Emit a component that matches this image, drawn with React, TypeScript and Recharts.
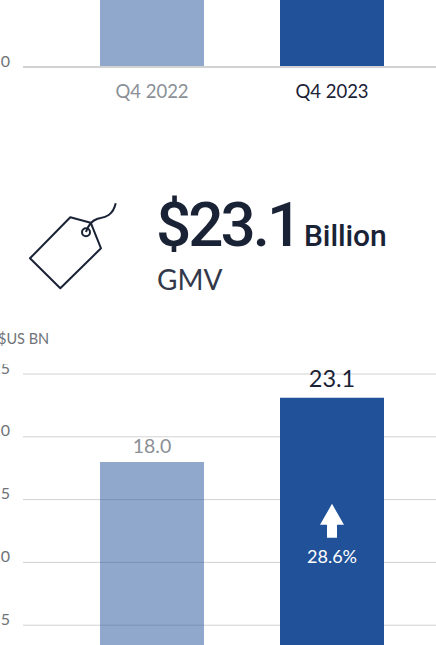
import { BarChart, Bar, XAxis, YAxis, CartesianGrid, Cell, LabelList } from "recharts";

const FONT = "Lato, sans-serif";
const HEAD_FONT = "Roboto, sans-serif";
const DARK = "#1a2236";
const MUTED = "#8b8f96";
const BLUE = "#215299";

const quarters = ["Q4 2022", "Q4 2023"];
// top chart is cut by the page, only the baseline is readable
const prevValues = [8, 11];
const prevTicks = [0, 5, 10];
const gmvValues = [18.0, 23.1];
const gmvTicks = [0, 5, 10, 15, 20, 25];
const gmvGrowth = "28.6%";

const prevData = quarters.map((q, i) => ({ q, v: prevValues[i] }));
const gmvData = quarters.map((q, i) => ({ q, v: gmvValues[i] }));

const QuarterTick = ({ x, y, payload, index }: any) => (
  <text x={x} y={y + 23} textAnchor="middle" fontFamily={FONT} fontSize={18.5} fill={index === 1 ? DARK : MUTED}>
    {payload.value}
  </text>
);

const GmvLabel = ({ x, y, width, value, index }: any) => {
  const cx = x + width / 2;
  if (index === 0) {
    return (
      <text x={cx} y={y - 9} textAnchor="middle" fontFamily={FONT} fontSize={19.5} fill={MUTED}>
        {value.toFixed(1)}
      </text>
    );
  }
  const t = y + 106;
  return (
    <g>
      <text x={cx} y={y - 11} textAnchor="middle" fontFamily={FONT} fontSize={23.5} fill={DARK}>
        {value.toFixed(1)}
      </text>
      <path
        d={`M${cx} ${t} L${cx + 12} ${t + 21} H${cx + 5} V${t + 34} H${cx - 5} V${t + 21} H${cx - 12} Z`}
        fill="#fff"
      />
      <text x={cx} y={t + 59} textAnchor="middle" fontFamily={FONT} fontSize={18} fill="#fff">
        {gmvGrowth}
      </text>
    </g>
  );
};

const axisTick = { fontFamily: FONT, fontSize: 16, fill: "#6f7378", dy: -6 };

export default function App() {
  return (
    <div style={{ position: "fixed", left: 0, top: 0, width: 436, height: 645, overflow: "hidden", background: "#fff" }}>
      <div style={{ position: "absolute", left: 0, top: -100 }}>
        <BarChart
          width={436}
          height={207}
          data={prevData}
          barCategoryGap={38}
          margin={{ top: 7, right: 0, bottom: 0, left: 0 }}
        >
          <CartesianGrid vertical={false} stroke="#d2d2d2" />
          <XAxis
            dataKey="q"
            height={40}
            padding={{ left: 39, right: 14 }}
            axisLine={{ stroke: "#d2d2d2", strokeWidth: 2 }}
            tickLine={false}
            tick={<QuarterTick />}
          />
          <YAxis
            width={23}
            domain={[0, 10]}
            ticks={prevTicks}
            axisLine={false}
            tickLine={false}
            tickSize={0}
            tickMargin={13}
            tick={axisTick}
          />
          <Bar dataKey="v" isAnimationActive={false}>
            <Cell fill={BLUE} fillOpacity={0.5} />
            <Cell fill={BLUE} />
          </Bar>
        </BarChart>
      </div>

      {/* tag icon */}
      <svg width={130} height={100} viewBox="0 200 130 100" style={{ position: "absolute", left: 0, top: 200 }}>
        <g fill="none" stroke={DARK} strokeWidth={2}>
          <path d="M70.3 217.3 L90.7 222.7 L101 248.3 L60.3 288.3 L30 258.3 Z" strokeLinejoin="round" />
          <circle cx={86} cy={232.3} r={4} />
          <path d="M86 232 C88 226 91 221 97 219 C105 217 113 216 115.7 203.3" />
        </g>
      </svg>

      <div style={{ position: "absolute", left: 156, top: 188, fontFamily: HEAD_FONT, fontWeight: 500, fontSize: 62, letterSpacing: -3, lineHeight: "74px", color: DARK, whiteSpace: "nowrap" }}>
        $23.1
      </div>
      <div style={{ position: "absolute", left: 304, top: 218, fontFamily: HEAD_FONT, fontWeight: 500, fontSize: 30, letterSpacing: -0.1, lineHeight: "36px", color: DARK, whiteSpace: "nowrap" }}>
        Billion
      </div>
      <div style={{ position: "absolute", left: 157, top: 262, fontFamily: FONT, fontSize: 28, lineHeight: "34px", color: "#33394a", whiteSpace: "nowrap" }}>
        GMV
      </div>
      <div style={{ position: "absolute", left: -2, top: 330, fontFamily: FONT, fontSize: 14.5, lineHeight: "18px", color: "#6f7378", whiteSpace: "nowrap" }}>
        $US BN
      </div>

      <div style={{ position: "absolute", left: 0, top: 364 }}>
        <BarChart
          width={436}
          height={324}
          data={gmvData}
          barCategoryGap={38}
          margin={{ top: 10, right: 0, bottom: 0, left: 0 }}
        >
          <CartesianGrid vertical={false} stroke="#d2d2d2" />
          <XAxis dataKey="q" hide padding={{ left: 39, right: 14 }} />
          <YAxis
            width={23}
            domain={[0, 25]}
            ticks={gmvTicks}
            axisLine={false}
            tickLine={false}
            tickSize={0}
            tickMargin={13}
            tick={axisTick}
          />
          <Bar dataKey="v" isAnimationActive={false}>
            <Cell fill={BLUE} fillOpacity={0.5} />
            <Cell fill={BLUE} />
            <LabelList dataKey="v" content={<GmvLabel />} />
          </Bar>
        </BarChart>
      </div>
    </div>
  );
}
